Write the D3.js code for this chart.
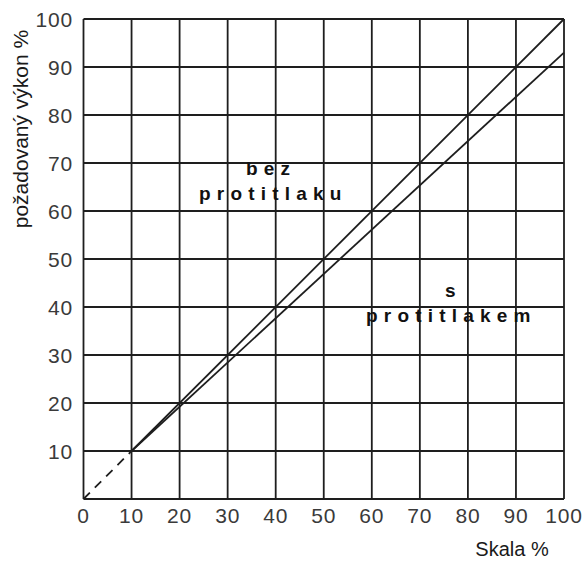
<!DOCTYPE html>
<html><head><meta charset="utf-8">
<script src="https://cdn.jsdelivr.net/npm/d3@7"></script>
<style>body{margin:0;background:#fff}</style>
</head><body>
<script>
const ticks = [0,10,20,30,40,50,60,70,80,90,100];
const tickLabels = ["0","10","20","30","40","50","60","70","80","90","100"];
const seriesNames = ["bez protitlaku","s protitlakem"];
const bezX = [10,100], bezY = [10,100];
const sX = [10,100], sY = [10,93];
const dashX = [0,10], dashY = [0,10];

const W=585,H=561;
const svg=d3.select("body").append("svg").attr("width",W).attr("height",H);
const x=d3.scaleLinear().domain([0,100]).range([83.5,564]);
const y=d3.scaleLinear().domain([0,100]).range([499,19]);
const ink="#1e1e1e";
const g=svg.append("g");
// grid
g.selectAll("line.v").data(ticks).enter().append("line")
 .attr("x1",d=>x(d)).attr("x2",d=>x(d)).attr("y1",y(0)).attr("y2",y(100))
 .attr("stroke",ink).attr("stroke-width",1.8);
g.selectAll("line.h").data(ticks).enter().append("line")
 .attr("y1",d=>y(d)).attr("y2",d=>y(d)).attr("x1",x(0)).attr("x2",x(100))
 .attr("stroke",ink).attr("stroke-width",1.8);
// tick labels
const tf="'Liberation Sans', Arial, sans-serif";
g.selectAll("text.xt").data(ticks).enter().append("text")
 .attr("x",d=>x(d)).attr("y",523).attr("text-anchor","middle")
 .attr("font-family",tf).attr("font-size",21).attr("letter-spacing",0.8).attr("fill","#3a3a3a")
 .text((d,i)=>tickLabels[i]);
g.selectAll("text.yt").data(ticks.slice(1)).enter().append("text")
 .attr("x",73).attr("y",d=>y(d)+8).attr("text-anchor","end")
 .attr("font-family",tf).attr("font-size",21).attr("letter-spacing",0.8).attr("fill","#3a3a3a")
 .text((d,i)=>tickLabels[i+1]);
// lines
const line=d3.line().x(d=>x(d[0])).y(d=>y(d[1]));
g.append("path").attr("d",line(bezX.map((v,i)=>[v,bezY[i]]))).attr("fill","none").attr("stroke",ink).attr("stroke-width",1.8);
g.append("path").attr("d",line(sX.map((v,i)=>[v,sY[i]]))).attr("fill","none").attr("stroke",ink).attr("stroke-width",1.8);
g.append("path").attr("d",line(dashX.map((v,i)=>[v,dashY[i]]))).attr("fill","none").attr("stroke",ink).attr("stroke-width",1.8).attr("stroke-dasharray","9,7");
// annotations
const af="'Liberation Sans', Arial, sans-serif";
function ann(t,xx,yy){g.append("text").attr("x",xx).attr("y",yy).attr("font-family",af).attr("font-weight","bold").attr("font-size",19).attr("letter-spacing",6.2).attr("fill","#111").text(t);}
ann("bez",246,175);
ann("protitlaku",199,200);
ann("s",445,297);
ann("protitlakem",366,322);
// axis titles
g.append("text").attr("transform","translate(28,129) rotate(-90)").attr("text-anchor","middle")
 .attr("font-family",af).attr("font-size",21).attr("fill","#1a1a1a").text("požadovaný výkon %");
g.append("text").attr("x",512).attr("y",556).attr("text-anchor","middle")
 .attr("font-family",af).attr("font-size",20).attr("fill","#1a1a1a").text("Skala %");
</script>
</body></html>
